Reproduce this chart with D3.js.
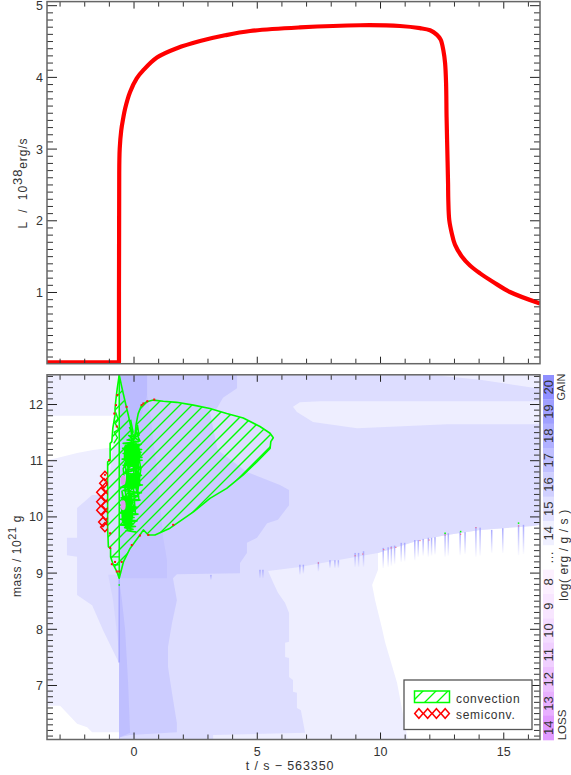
<!DOCTYPE html>
<html><head><meta charset="utf-8">
<script src="https://cdnjs.cloudflare.com/ajax/libs/d3/7.8.5/d3.min.js"></script>
<style>html,body{margin:0;padding:0;background:#fff}svg{display:block}
text{font-family:"Liberation Sans",Arial,sans-serif;fill:#333}</style></head><body>
<svg id="c" width="571" height="775"></svg>
<script>
// ---- axes ----
const xMajor=[0,5,10,15];
const xMinor=[-3,-2,-1,1,2,3,4,6,7,8,9,11,12,13,14,16];
const lumMajor=[1,2,3,4,5];
const massMajor=[7,8,9,10,11,12];
// ---- luminosity curve (t, L) ----
const lumFlatT=[-3.51,-0.59,-0.59,-0.58];
const lumFlatL=[0.02,0.02,1.0,2.66];
const lumT=[-0.58,-0.56,-0.50,-0.42,-0.34,-0.14,0.13,0.39,0.95,1.76,2.70,3.71,4.73,6.75,9.19,10.81,11.62,12.03,12.30,12.46,12.57,12.64,12.68,12.70,12.73,12.76,12.77,12.81,12.91,13.04,13.31,13.65,14.06,14.59,15.27,16.49];
const lumL=[2.66,3.0,3.25,3.42,3.56,3.79,3.98,4.09,4.27,4.40,4.50,4.58,4.64,4.69,4.72,4.71,4.68,4.65,4.59,4.52,4.37,4.19,3.91,3.44,2.98,2.52,2.28,2.0,1.82,1.66,1.50,1.37,1.26,1.14,1.00,0.84];
// ---- net energy rate regions, [t, mass] outlines ----
const whiteUpper=[[-3.51,11.79],[-0.83,11.79],[-0.83,11.23],[-1.64,11.18],[-2.29,11.13],[-3.1,11.04],[-3.51,11.0]];
const whiteLower=[[-3.51,6.63],[-2.98,6.63],[-2.70,6.50],[-2.29,6.31],[-1.88,6.25],[-1.68,6.16],[-0.59,6.16],[-0.59,6.0],[-3.51,6.0]];
const whiteRight=[[9.92,9.35],[11.62,9.58],[12.72,9.67],[14.06,9.76],[16.21,9.83],[16.49,9.85],[16.49,6.0],[11.14,6.0],[10.69,7.04],[10.2,7.77],[10.08,8.01],[9.80,8.51],[9.68,8.78],[9.92,9.05]];
const level2=[[-0.59,12.52],[12.03,12.52],[14.06,12.43],[16.09,12.30],[16.49,12.28],[16.49,9.85],[16.21,9.83],[14.06,9.76],[12.72,9.67],[11.62,9.58],[9.92,9.35],[8.26,9.22],[6.75,9.10],[5.46,9.03],[5.66,8.83],[5.86,8.64],[6.15,8.46],[6.31,8.28],[6.31,7.77],[6.15,7.75],[6.15,7.50],[6.31,7.48],[6.31,7.14],[6.47,7.09],[6.47,6.88],[6.63,6.86],[6.63,6.59],[6.79,6.55],[6.96,6.15],[3.23,6.11],[3.23,6.0],[-0.59,6.0],[-0.59,7.39],[-1.24,7.98],[-1.68,8.42],[-2.29,8.60],[-2.29,9.28],[-2.70,9.31],[-2.70,9.62],[-2.29,9.62],[-2.29,10.15],[-1.68,10.38],[-1.08,10.38],[-0.83,11.23],[-0.59,11.36]];
const oval=[[6.47,11.95],[6.75,12.03],[7.57,12.05],[16.49,12.05],[16.49,11.64],[12.72,11.64],[9.07,11.57],[7.28,11.68],[6.63,11.86]];
const level3=[[-0.59,12.52],[4.20,12.52],[4.20,12.28],[3.63,12.11],[3.39,11.93],[3.10,11.86],[3.39,11.22],[3.51,11.15],[4.60,10.79],[5.94,10.56],[6.31,10.47],[6.31,10.20],[5.86,9.94],[5.42,9.88],[5.01,9.62],[4.60,9.53],[4.60,9.35],[4.32,9.17],[4.32,8.99],[1.76,8.97],[1.60,8.90],[1.76,8.51],[1.56,8.10],[1.40,7.68],[1.40,7.32],[1.56,6.86],[1.76,6.32],[1.76,6.16],[-0.14,6.11],[-0.55,6.07],[-0.59,6.0]];
const level3Wedge=[[-1.03,8.96],[-0.83,8.51],[-0.59,7.62],[-0.59,8.96]];
const level4=[[-0.59,12.52],[0.55,12.52],[0.55,12.16],[0.67,11.84],[0.95,10.83],[1.20,9.63],[1.36,9.22],[1.36,8.90],[-0.59,8.90]];
const level5Top=[[-0.59,12.52],[0.55,12.52],[0.55,12.16],[0.26,11.71],[0.02,11.36],[-0.59,11.36]];
const level5Spine=[[-0.59,8.9],[-0.47,8.51],[-0.34,7.98],[-0.22,7.04],[-0.14,6.15],[-0.55,6.07],[-0.59,6.0]];
const spineLine=[[-0.58,8.9],[-0.58,7.4]];
// ---- little spikes along the lower edge: t, top mass, bottom mass ----
const spikeT=[3.14,5.13,5.25,6.75,6.89,7.50,7.97,8.17,8.31,8.99,9.13,9.33,10.13,10.33,10.46,10.59,10.86,11.0,11.41,11.55,11.75,11.96,12.09,12.23,12.64,12.77,13.25,13.45,13.89,14.06,14.53,14.98,15.62,15.82];
const spikeTop=[8.96,9.05,9.05,9.14,9.14,9.19,9.22,9.22,9.22,9.35,9.35,9.38,9.44,9.45,9.47,9.48,9.53,9.53,9.58,9.58,9.60,9.62,9.62,9.63,9.70,9.70,9.72,9.72,9.81,9.80,9.76,9.79,9.85,9.85];
const spikeBot=[8.87,8.90,8.90,8.96,8.98,9.02,9.08,9.08,9.08,9.10,9.10,9.10,9.08,9.10,9.12,9.15,9.19,9.20,9.22,9.28,9.30,9.28,9.30,9.32,9.28,9.30,9.31,9.33,9.28,9.30,9.35,9.35,9.31,9.33];
// ---- convection zone ----
const convection=[[-0.58,12.52],[-0.66,12.28],[-0.71,12.10],[-0.75,11.92],[-0.75,11.80],[-0.84,11.57],[-0.88,11.33],[-0.95,11.30],[-0.95,11.00],[-1.05,10.97],[-1.05,9.79],[-1.02,9.46],[-0.93,9.43],[-0.93,9.28],[-0.82,9.14],[-0.68,9.02],[-0.58,8.90],[-0.41,9.19],[-0.14,9.43],[0.26,9.67],[0.40,9.76],[0.60,9.67],[0.87,9.67],[1.48,9.79],[2.43,10.08],[3.10,10.32],[3.78,10.50],[4.45,10.74],[5.00,10.97],[5.54,11.21],[5.57,11.33],[5.67,11.40],[5.54,11.48],[5.13,11.60],[4.45,11.75],[3.78,11.83],[3.10,11.92],[2.43,11.98],[1.75,12.03],[1.21,12.05],[0.80,12.07],[0.54,12.04],[0.33,11.98],[0.19,11.83],[0.10,11.63],[0.06,11.39],[-0.07,11.36],[-0.11,11.60],[-0.21,11.80],[-0.34,12.04],[-0.48,12.31]];
const convSpine=[[-0.58,12.52],[-0.58,8.90]];
const convBars=[[[-0.93,9.28],[-0.58,9.28]],[[-0.85,9.14],[-0.6,9.14]]];
const prong=[[-0.72,11.85],[-0.62,11.72],[-0.74,11.65],[-0.6,11.55],[-0.78,11.5],[-0.65,11.4],[-0.8,11.3]];
const tangleCores=[[[-0.38,11.25],[-0.1,11.32],[0.22,11.28],[0.3,11.1],[0.2,10.95],[0.28,10.85],[0,10.88],[-0.3,10.92],[-0.4,11.05]],[[-0.47,10.3],[-0.2,10.34],[-0.05,10.25],[-0.02,10.0],[-0.08,9.82],[-0.3,9.78],[-0.48,9.92],[-0.5,10.12]],[[-0.3,10.72],[0.02,10.78],[0.18,10.7],[0.2,10.52],[-0.05,10.48],[-0.32,10.55]]];
const tangle=[[-0.12,11.72],[-0.02,11.5],[-0.16,11.58],[0.02,11.42],[-0.2,11.44],[0.0,11.36],[0.16,11.62],[0.22,11.44],[0.08,11.52],[0.26,11.34],[0.04,11.4],[-0.26,11.36],[0.2,11.33],[-0.42,11.3],[0.3,11.28],[-0.33,11.26],[0.14,11.25],[-0.44,11.21],[0.33,11.19],[-0.31,11.17],[0.3,11.14],[-0.42,11.12],[0.06,11.11],[-0.33,11.07],[0.34,11.05],[-0.46,11.02],[0.35,11.0],[-0.3,10.97],[0.12,10.96],[-0.42,10.91],[0.33,10.87],[-0.27,10.83],[0.04,10.82],[-0.38,10.77],[0.32,10.73],[-0.12,10.72],[0.28,10.64],[-0.46,10.6],[0.36,10.56],[-0.52,10.52],[-0.05,10.51],[-0.42,10.46],[0.32,10.42],[-0.24,10.41],[0.2,10.36],[-0.5,10.33],[0.26,10.29],[-0.36,10.27],[-0.02,10.25],[-0.54,10.2],[0.16,10.16],[-0.38,10.13],[0.05,10.1],[-0.55,10.06],[0.18,10.04],[-0.4,10.01],[0.02,9.98],[-0.53,9.95],[0.14,9.92],[-0.28,9.9],[0.0,9.87],[-0.55,9.85],[0.08,9.82],[-0.36,9.8],[-0.02,9.77],[-0.3,9.75],[0.12,9.72]];
const tangle2=[[-0.3,11.25],[-0.18,10.6],[-0.36,10.95],[-0.1,10.3],[-0.4,10.7],[-0.22,10.0],[-0.47,10.45],[-0.28,9.8],[-0.5,10.15],[-0.12,9.78],[-0.2,10.5],[0.08,10.05],[-0.05,10.75],[0.22,10.3],[0.02,11.0],[0.26,10.55],[0.1,11.3],[0.3,10.85],[0.16,10.4],[0.2,11.1],[0.05,10.6],[-0.08,11.25],[-0.28,10.55],[-0.15,11.1],[-0.42,10.85],[-0.3,10.35],[-0.05,10.4],[-0.38,9.95],[0.03,10.2],[-0.2,9.88]];
const pinkBlobs=[[-0.44,10.65],[-0.44,10.2]];
const semiconv=[[-1.32,10.43],[-1.32,10.26],[-1.32,10.11],[-1.24,9.90],[-1.20,10.59],[-1.16,10.72],[-1.12,10.52],[-1.12,10.35],[-1.12,10.20],[-1.12,10.02],[-1.16,9.81]];
const edgeRed=[[7.50,9.17],[8.99,9.30],[9.30,9.33],[10.15,9.41],[10.45,9.44],[10.64,9.45],[11.62,9.57],[11.99,9.58],[12.64,9.67],[13.27,9.68],[13.89,9.80],[15.62,9.83]];
const hullRed=[[-0.99,11.00],[-1.16,10.74],[-0.95,9.70],[-0.95,9.44],[-0.88,9.15],[-0.75,9.19],[-0.68,9.02],[-0.58,9.02],[-0.48,9.19],[-0.07,9.49],[0.26,9.66],[0.60,9.67],[1.61,9.85],[0.33,11.98],[0.40,12.01],[0.56,12.05],[0.84,12.08],[-0.68,11.60],[-0.78,11.83],[-0.71,11.98],[-0.66,12.16],[-0.28,11.95]];
const greenDots=[[12.64,9.70],[13.27,9.73],[15.62,9.88],[-0.58,8.78]];
// ---- colour bar ----
const barLabels=["20","19","18","17","16","15","14","…","8","9","10","11","12","13","14"];
const barColors=["#9090ff","#a0a0ff","#b0b0ff","#c0c0ff","#d0d0ff","#e0e0ff","#f0f0ff","#ffffff","#fcf0ff","#f8e6ff","#f4dcff","#f0d0ff","#ecc0ff","#e8b0ff","#e09aff"];
const legendLabels=["convection","semiconv."];

const svg=d3.select("#c");
const L=47,R=540;
const x=d3.scaleLinear().domain([-3.51,16.49]).range([L,R]);
const yL=d3.scaleLinear().domain([0,5.05]).range([363.7,1.6]);
const yM=d3.scaleLinear().domain([6.03,12.52]).range([739.5,374.8]);
const defs=svg.append("defs");
defs.append("clipPath").attr("id","plot").append("rect").attr("x",L).attr("y",374.8).attr("width",R-L).attr("height",364.7);
defs.append("clipPath").attr("id","plotT").append("rect").attr("x",L).attr("y",1.6).attr("width",R-L).attr("height",362.1);
const line=d3.line().x(d=>x(d[0])).y(d=>yM(d[1]));
defs.append("clipPath").attr("id","hull").append("path").attr("d",line(convection)+"Z");
defs.append("clipPath").attr("id","semi").append("rect").attr("x",80).attr("y",450).attr("width",x(-1.05)-80).attr("height",100);
const grad=defs.append("linearGradient").attr("id","spk").attr("x1",0).attr("y1",0).attr("x2",0).attr("y2",1);
grad.append("stop").attr("offset",0).attr("stop-color","#a8a8ff");
grad.append("stop").attr("offset",1).attr("stop-color","#a8a8ff").attr("stop-opacity",0.05);

// top panel
const gT=svg.append("g").attr("clip-path","url(#plotT)");
const lumStyle=p=>p.attr("fill","none").attr("stroke","#ff0000").attr("stroke-width",4.2).attr("stroke-linejoin","round");
gT.append("path").attr("d",d3.line().x((d,i)=>x(lumFlatT[i])).y(d=>yL(d))(lumFlatL)).call(lumStyle);
gT.append("path").attr("d",d3.line().x((d,i)=>x(lumT[i])).y(d=>yL(d)).curve(d3.curveCatmullRom.alpha(0.5))(lumL)).call(lumStyle);

// lower panel
const g=svg.append("g").attr("clip-path","url(#plot)");
g.append("rect").attr("x",L).attr("y",374.8).attr("width",R-L).attr("height",364.7).attr("fill","#eeeeff");
[[whiteUpper,"#fff"],[whiteLower,"#fff"],[whiteRight,"#fff"],[level2,"#ddddff"],[oval,"#eeeeff"],[level3,"#ccccff"],[level3Wedge,"#d4d4ff"],[level4,"#c4c4ff"],[level5Top,"#bbbbff"],[level5Spine,"#bfbfff"]]
 .forEach(([p,c])=>g.append("path").attr("d",line(p)+"Z").attr("fill",c));
g.append("path").attr("d",line(spineLine)).attr("stroke","#a8a8ff").attr("stroke-width",1.5).attr("fill","none");
g.selectAll("rect.spike").data(spikeT).join("rect").attr("class","spike")
  .attr("x",d=>x(d)-0.75).attr("width",1.5)
  .attr("y",(d,i)=>yM(spikeTop[i])).attr("height",(d,i)=>yM(spikeBot[i])-yM(spikeTop[i])).attr("fill","url(#spk)");

// hatching inside the zone
const hatch=g.append("g").attr("clip-path","url(#hull)");
d3.range(0,34).forEach(k=>{const c=717-12*k;
  hatch.append("line").attr("x1",c-360).attr("y1",360).attr("x2",c-600).attr("y2",600)
   .attr("stroke","#00ff00").attr("stroke-width",1.3);});
const greenLine=(p,w)=>g.append("path").attr("d",p).attr("stroke","#00ff00").attr("stroke-width",w).attr("fill","none").attr("stroke-linejoin","round");
greenLine(line(convSpine),1.5);
convBars.forEach(b=>greenLine(line(b),1.4));
greenLine(line(prong),1.4);
tangleCores.forEach(c=>g.append("path").attr("d",line(c)+"Z").attr("fill","#00ff00"));
greenLine(line(tangle),1.6);
greenLine(line(tangle2),1.5);
g.selectAll("ellipse.pink").data(pinkBlobs).join("ellipse").attr("class","pink")
  .attr("cx",d=>x(d[0])+0.5).attr("cy",d=>yM(d[1])).attr("rx",2.5).attr("ry",5).attr("fill","#dd99ee");
greenLine(line(convection)+"Z",1.6);
const semiG=g.append("g").attr("clip-path","url(#semi)");
const dia=(cx,cy,w,h)=>`M${cx-w},${cy}L${cx},${cy-h}L${cx+w},${cy}L${cx},${cy+h}Z`;
semiG.selectAll("path").data(semiconv).join("path")
  .attr("d",d=>dia(x(d[0]),yM(d[1]),4.3,4.6)).attr("fill","none").attr("stroke","#ff0000").attr("stroke-width",1.5);
g.selectAll("rect.rd").data(hullRed).join("rect").attr("class","rd")
  .attr("x",d=>x(d[0])-1).attr("y",d=>yM(d[1])-1).attr("width",2).attr("height",2).attr("fill","#ff1010");
g.selectAll("rect.ed").data(edgeRed).join("rect").attr("class","ed")
  .attr("x",d=>x(d[0])-0.6).attr("y",d=>yM(d[1])-0.6).attr("width",1.2).attr("height",1.2).attr("fill","#f07090");
g.selectAll("rect.gd").data(greenDots).join("rect").attr("class","gd")
  .attr("x",d=>x(d[0])-0.75).attr("y",d=>yM(d[1])-0.75).attr("width",1.5).attr("height",1.5).attr("fill","#00ff00");

// axes
function ticks(axis,tr,vals,len,color,fmt){
  const a=axis.tickValues(vals).tickSize(-len).tickPadding(4).tickSizeOuter(0);
  a.tickFormat(fmt?d3.format("d"):"");
  const s=svg.append("g").attr("transform",tr).call(a);
  s.select(".domain").remove();
  s.selectAll("line").attr("stroke",color).attr("stroke-width",1);
  s.selectAll("text").style("font-family","'Liberation Sans',Arial,sans-serif").style("font-size","12.5px").attr("fill","#333").attr("dy","0.36em");
  return s;
}
const minorsOf=(lo,hi,majors)=>d3.range(Math.round(lo*10),Math.round(hi*10)+1).map(v=>v/10).filter(v=>!majors.includes(v));
[[1.6,363.7,yL,lumMajor,minorsOf(0.1,5,lumMajor)],[374.8,739.5,yM,massMajor,minorsOf(6.1,12.5,massMajor)]].forEach(([top,bot,ys,maj,min])=>{
  ticks(d3.axisBottom(x),`translate(0,${bot})`,xMinor,5,"#333");
  ticks(d3.axisTop(x),`translate(0,${top})`,xMinor,5,"#333");
  ticks(d3.axisBottom(x),`translate(0,${bot})`,xMajor,7,"#222");
  ticks(d3.axisTop(x),`translate(0,${top})`,xMajor,7,"#222");
  ticks(d3.axisLeft(ys),`translate(${L},0)`,min,6,"#333");
  ticks(d3.axisLeft(ys),`translate(${L},0)`,maj,10,"#222",true);
  ticks(d3.axisRight(ys),`translate(${R},0)`,min,6,"#333");
  ticks(d3.axisRight(ys),`translate(${R},0)`,maj,10,"#222");
  svg.append("rect").attr("x",L).attr("y",top).attr("width",R-L).attr("height",bot-top).attr("fill","none").attr("stroke","#666").attr("stroke-width",1.5);
});
svg.append("g").attr("transform","translate(0,739.5)").call(d3.axisBottom(x).tickValues(xMajor).tickSize(0).tickPadding(8).tickFormat(d3.format("d")))
  .call(s=>{s.select(".domain").remove();s.selectAll("text").style("font-family","'Liberation Sans',Arial,sans-serif").style("font-size","12.5px").attr("fill","#333");});

// titles
const rot=(px,py)=>svg.append("text").attr("transform",`translate(${px},${py}) rotate(-90)`).attr("text-anchor","middle").style("font-size","12px").style("letter-spacing","0.6px");
const t1=rot(27,183).style("white-space","pre").style("letter-spacing","0.9px");t1.append("tspan").text("L  /  10");t1.append("tspan").attr("dy",-5).style("font-size","13px").text("38");t1.append("tspan").attr("dy",5).text("erg/s");
const t2=rot(21,556).style("white-space","pre");t2.append("tspan").text("mass / 10");t2.append("tspan").attr("dy",-5).style("font-size","11px").text("21");t2.append("tspan").attr("dy",5).text(" g");
rot(568,555).text("log( erg / g / s )");
rot(565,387).style("letter-spacing","0").style("font-size","11px").text("GAIN");
rot(566,725).style("letter-spacing","0").style("font-size","11.5px").text("LOSS");
svg.append("text").attr("x",290).attr("y",770).attr("text-anchor","middle").style("font-size","12.5px").style("letter-spacing","0.9px").style("white-space","pre").text("t / s − 563350");

// colour bar
const bar=d3.scaleBand().domain(d3.range(barLabels.length)).range([375,740]);
svg.selectAll("rect.bar").data(barColors).join("rect").attr("class","bar")
  .attr("x",543).attr("width",11).attr("y",(d,i)=>bar(i)).attr("height",bar.bandwidth()+0.3).attr("fill",d=>d);
svg.selectAll("text.bl").data(barLabels).join("text").attr("class","bl")
  .attr("transform",(d,i)=>`translate(553,${bar(i)+bar.bandwidth()/2}) rotate(-90)`)
  .attr("text-anchor","middle").style("font-size","13px").text(d=>d);

// legend
svg.append("rect").attr("x",404).attr("y",680).attr("width",128).attr("height",49.5).attr("fill","#fff").attr("stroke","#555").attr("stroke-width",1.3);
defs.append("clipPath").attr("id","lg").append("rect").attr("x",414.5).attr("y",691).attr("width",35).attr("height",11.5);
const lg=svg.append("g").attr("clip-path","url(#lg)");
[424,437,449,462].forEach(px=>lg.append("line").attr("x1",px).attr("y1",690).attr("x2",px-14).attr("y2",704).attr("stroke","#00ff00").attr("stroke-width",1.3));
svg.append("rect").attr("x",414.5).attr("y",691).attr("width",35).attr("height",11.5).attr("fill","none").attr("stroke","#00ff00").attr("stroke-width",1.5);
[0,1,2,3].forEach(i=>svg.append("path").attr("d",dia(418.9+8.75*i,713.5,4.2,4.8)).attr("fill","none").attr("stroke","#ff0000").attr("stroke-width",1.5));
svg.selectAll("text.lt").data(legendLabels).join("text").attr("class","lt")
  .attr("x",456).attr("y",(d,i)=>703+i*16.3).style("font-size","12px").style("letter-spacing","0.7px").text(d=>d);
</script></body></html>
